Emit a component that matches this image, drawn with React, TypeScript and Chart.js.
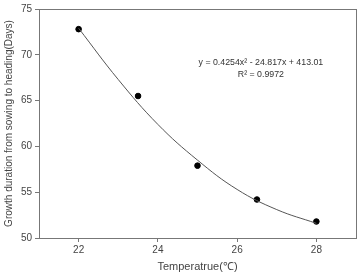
import React, { useEffect, useRef } from "react";
import { Chart, registerables } from "chart.js";

Chart.register(...registerables);

const temperatures = [22, 23.5, 25, 26.5, 28];
const durations = [72.8, 65.5, 57.9, 54.2, 51.8];
// trend curve
const curveX = [22, 23, 24, 25, 26, 27, 28];
const curveY = [72.9, 67.3, 62.4, 58.5, 55.3, 53.1, 51.6];
const xTicks = [22, 24, 26, 28];
const equationLines = ["y = 0.4254x\u00b2 - 24.817x + 413.01", "R\u00b2 = 0.9972"];

const FONT = "'Liberation Sans', Arial, sans-serif";

const framePlugin = {
  id: "frame",
  afterDraw(chart: any) {
    const { ctx, chartArea } = chart;
    ctx.save();
    ctx.strokeStyle = "#777";
    ctx.lineWidth = 1;
    ctx.strokeRect(
      Math.round(chartArea.left) + 0.5,
      Math.round(chartArea.top) + 0.5,
      Math.round(chartArea.right - chartArea.left),
      Math.round(chartArea.bottom - chartArea.top)
    );
    ctx.fillStyle = "#333";
    ctx.font = `8.8px ${FONT}`;
    ctx.textAlign = "center";
    ctx.textBaseline = "middle";
    const cx = chart.scales.x.getPixelForValue(26.6);
    const cy = chart.scales.y.getPixelForValue(69.2);
    equationLines.forEach((t, i) => ctx.fillText(t, cx, cy + i * 12));
    ctx.restore();
  },
};

export default function App() {
  const ref = useRef<HTMLCanvasElement>(null);
  useEffect(() => {
    document.body.style.margin = "0";
    const chart = new Chart(ref.current!, {
      type: "scatter",
      data: {
        datasets: [
          {
            data: curveX.map((t, i) => ({ x: t, y: curveY[i] })),
            showLine: true,
            tension: 0.4,
            borderColor: "#555",
            borderWidth: 1,
            pointRadius: 0,
          },
          {
            data: temperatures.map((t, i) => ({ x: t, y: durations[i] })),
            showLine: false,
            pointBackgroundColor: "#000",
            pointBorderColor: "#000",
            pointRadius: 2.8,
          },
        ],
      },
      options: {
        responsive: false,
        animation: false,
        layout: { padding: { top: 8, right: 3, left: 0, bottom: 0 } },
        plugins: { legend: { display: false }, tooltip: { enabled: false } },
        scales: {
          x: {
            type: "linear",
            min: 21,
            max: 29,
            afterBuildTicks: (s: any) => {
              s.ticks = xTicks.map((v) => ({ value: v }));
            },
            afterFit: (s: any) => {
              s.height = 37;
            },
            grid: { drawOnChartArea: false, tickLength: 4, color: "#777" },
            border: { color: "#777" },
            ticks: { color: "#444", font: { family: FONT, size: 10 }, padding: 2 },
            title: {
              display: true,
              text: "Temperatrue(\u2103)",
              color: "#444",
              font: { family: FONT, size: 11 },
              padding: { top: 0, bottom: 1 },
            },
          },
          y: {
            min: 50,
            max: 75,
            afterFit: (s: any) => {
              s.width = 39;
            },
            grid: { drawOnChartArea: false, tickLength: 4, color: "#777" },
            border: { color: "#777" },
            ticks: { stepSize: 5, color: "#444", font: { family: FONT, size: 10 }, padding: 3 },
            title: {
              display: true,
              text: "Growth duration from sowing to heading(Days)",
              color: "#444",
              font: { family: FONT, size: 10 },
              padding: { top: 3, bottom: 0 },
            },
          },
        },
      },
      plugins: [framePlugin],
    } as any);
    return () => chart.destroy();
  }, []);
  return (
    <div style={{ position: "absolute", left: 0, top: 0, width: 361, height: 275, background: "#fff" }}>
      <canvas ref={ref} width={361} height={275} style={{ display: "block" }} />
    </div>
  );
}
